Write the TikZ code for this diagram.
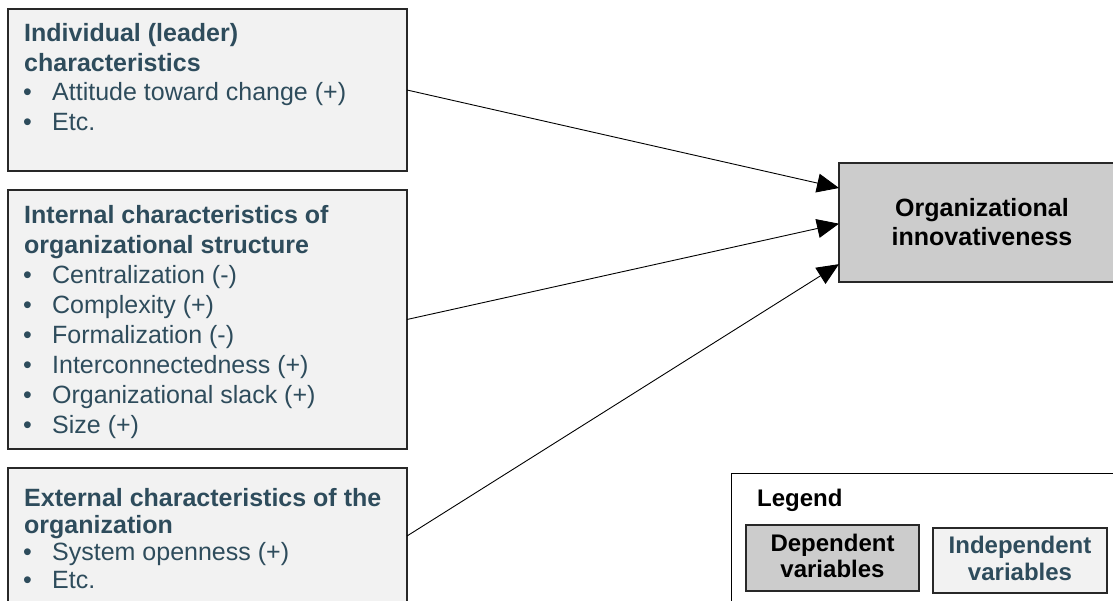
\documentclass[tikz,border=0pt]{standalone}
\usepackage{fontspec}
\setmainfont{Liberation Sans}
\usetikzlibrary{arrows.meta,calc}
\definecolor{slate}{RGB}{46,76,92}
\definecolor{indepfill}{RGB}{242,242,242}
\definecolor{depfill}{RGB}{204,204,204}
\definecolor{edge}{RGB}{40,40,40}

\begin{document}
\begin{tikzpicture}[x=1pt,y=-1pt,
  box/.style={draw=edge, line width=1.3pt, inner sep=0pt, outer sep=0pt,
    anchor=north west},
  indep/.style={box, fill=indepfill},
  dep/.style={box, fill=depfill},
  head/.style={anchor=base west, inner sep=0pt, text=slate,
    font=\fontsize{25}{30}\selectfont\bfseries},
  item/.style={anchor=base west, inner sep=0pt, text=slate,
    font=\fontsize{25}{30}\selectfont},
  dephead/.style={anchor=base, inner sep=0pt, text=black,
    font=\fontsize{25}{30}\selectfont\bfseries},
  legtext/.style={anchor=base, inner sep=0pt,
    font=\fontsize{24}{28}\selectfont\bfseries},
  conn/.style={draw=black, line width=0.9pt,
    -{Triangle[length=22pt,width=19pt]}}
]
\useasboundingbox (0,0) rectangle (1113,601);
\clip (0,0) rectangle (1113,601);

% independent-variable groups
\node[indep, minimum width=399pt, minimum height=162pt] (b1) at (8,9) {};
\node[indep, minimum width=399pt, minimum height=259pt] (b2) at (8,190) {};
\node[indep, minimum width=399pt, minimum height=136pt] (b3) at (8,468) {};

% dependent variable
\node[dep, minimum width=286pt, minimum height=119pt] (tgt) at (839,163) {};
\node[dephead] (t1) at (982,217) {Organizational};
\node[dephead] (t2) at (982,246) {innovativeness};

% group 1
\node[head] (h11) at (24,42) {Individual (leader)};
\node[head] (h12) at (24,72) {characteristics};
\node[item] (i11) at (23,101) {\makebox[29pt][l]{•}Attitude toward change (+)};
\node[item] (i12) at (23,131) {\makebox[29pt][l]{•}Etc.};

% group 2
\node[head] (h21) at (24,224) {Internal characteristics of};
\node[head] (h22) at (24,254) {organizational structure};
\node[item] (i21) at (23,284) {\makebox[29pt][l]{•}Centralization (-)};
\node[item] (i22) at (23,314) {\makebox[29pt][l]{•}Complexity (+)};
\node[item] (i23) at (23,344) {\makebox[29pt][l]{•}Formalization (-)};
\node[item] (i24) at (23,373) {\makebox[29pt][l]{•}Interconnectedness (+)};
\node[item] (i25) at (23,403) {\makebox[29pt][l]{•}Organizational slack (+)};
\node[item] (i26) at (23,433) {\makebox[29pt][l]{•}Size (+)};

% group 3
\node[head] (h31) at (24,506) {External characteristics of the};
\node[head] (h32) at (24,533) {organization};
\node[item] (i31) at (23,560) {\makebox[29pt][l]{•}System openness (+)};
\node[item] (i32) at (23,588) {\makebox[29pt][l]{•}Etc.};

% effects
\draw[conn] (b1.east) -- ($(tgt.north west)!0.21!(tgt.south west)$);
\draw[conn] (b2.east) -- ($(tgt.north west)!0.51!(tgt.south west)$);
\draw[conn] (b3.east) -- ($(tgt.north west)!0.85!(tgt.south west)$);

% legend
\node[draw=black, line width=1pt, anchor=north west, inner sep=0pt,
  minimum width=450pt, minimum height=200pt] (leg) at (731,473) {};
\node[legtext, anchor=base west] (legt) at (757,506) {Legend};
\node[dep, minimum width=173pt, minimum height=66pt] (ldep) at (746,525) {};
\node[legtext] (ld1) at (ldep.center |- 0,551) {Dependent};
\node[legtext] (ld2) at (ldep.center |- 0,577) {variables};
\node[indep, minimum width=174pt, minimum height=65pt] (lind) at (933,528) {};
\node[legtext, text=slate] (li1) at (lind.center |- 0,553) {Independent};
\node[legtext, text=slate] (li2) at (lind.center |- 0,580) {variables};
\end{tikzpicture}
\end{document}
